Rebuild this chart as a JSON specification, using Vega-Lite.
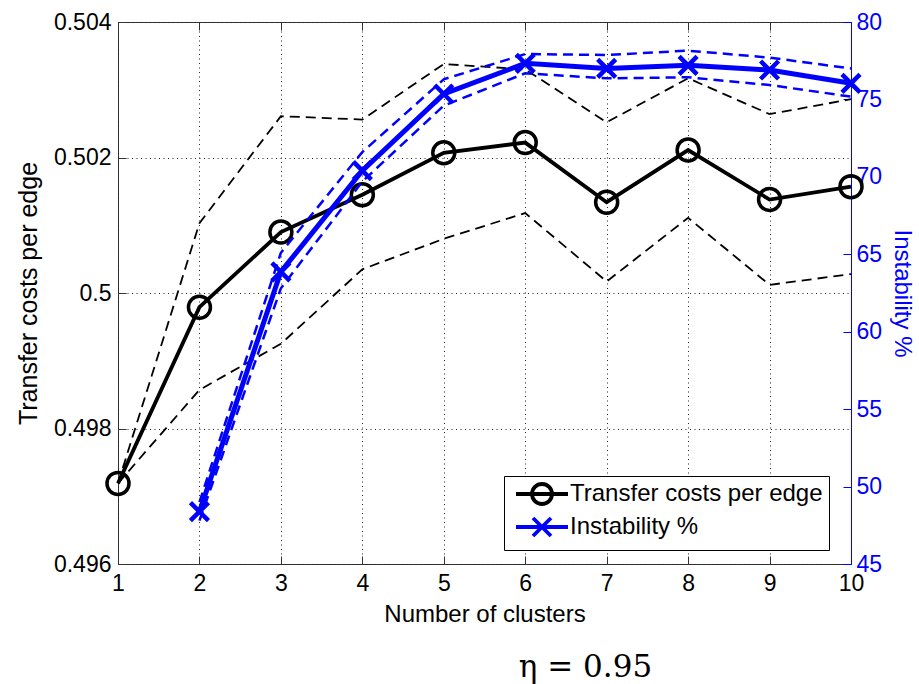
{
  "$schema": "https://vega.github.io/schema/vega-lite/v6.json",
  "width": 733,
  "height": 542,
  "autosize": {"type": "none"},
  "padding": {"left": 118, "top": 22, "right": 68, "bottom": 120},
  "background": "white",
  "config": {
    "font": "Liberation Sans",
    "view": {"stroke": "#333", "strokeWidth": 1},
    "axis": {
      "labelFont": "Liberation Sans",
      "titleFont": "Liberation Sans",
      "labelFontSize": 23,
      "titleFontSize": 24,
      "titleFontWeight": "normal",
      "labelColor": "black",
      "titleColor": "black",
      "tickColor": "#333",
      "domainColor": "#333",
      "tickSize": -8,
      "gridColor": "#222",
      "gridDash": [1, 3.5],
      "gridOpacity": 1,
      "labelOverlap": false,
      "labelFlush": false
    }
  },
  "title": {
    "text": "η = 0.95",
    "orient": "bottom",
    "anchor": "middle",
    "font": "DejaVu Serif",
    "fontSize": 31,
    "fontWeight": "normal",
    "color": "black",
    "dx": 101,
    "offset": 27
  },
  "datasets": {
    "cost": [
      {"k": 1, "band": "mean", "value": 0.49719},
      {"k": 2, "band": "mean", "value": 0.49979},
      {"k": 3, "band": "mean", "value": 0.5009},
      {"k": 4, "band": "mean", "value": 0.50145},
      {"k": 5, "band": "mean", "value": 0.50207},
      {"k": 6, "band": "mean", "value": 0.50222},
      {"k": 7, "band": "mean", "value": 0.50134},
      {"k": 8, "band": "mean", "value": 0.50211},
      {"k": 9, "band": "mean", "value": 0.50138},
      {"k": 10, "band": "mean", "value": 0.50157},
      {"k": 1, "band": "upper", "value": 0.49719},
      {"k": 2, "band": "upper", "value": 0.50103},
      {"k": 3, "band": "upper", "value": 0.50261},
      {"k": 4, "band": "upper", "value": 0.50256},
      {"k": 5, "band": "upper", "value": 0.50338},
      {"k": 6, "band": "upper", "value": 0.5033},
      {"k": 7, "band": "upper", "value": 0.50252},
      {"k": 8, "band": "upper", "value": 0.50317},
      {"k": 9, "band": "upper", "value": 0.50264},
      {"k": 10, "band": "upper", "value": 0.50286},
      {"k": 1, "band": "lower", "value": 0.49719},
      {"k": 2, "band": "lower", "value": 0.49857},
      {"k": 3, "band": "lower", "value": 0.49925},
      {"k": 4, "band": "lower", "value": 0.50035},
      {"k": 5, "band": "lower", "value": 0.5008},
      {"k": 6, "band": "lower", "value": 0.50118},
      {"k": 7, "band": "lower", "value": 0.50017},
      {"k": 8, "band": "lower", "value": 0.50111},
      {"k": 9, "band": "lower", "value": 0.50012},
      {"k": 10, "band": "lower", "value": 0.50028}
    ],
    "inst": [
      {"k": 2, "band": "mean", "value": 48.38},
      {"k": 3, "band": "mean", "value": 63.87},
      {"k": 4, "band": "mean", "value": 70.4},
      {"k": 5, "band": "mean", "value": 75.35},
      {"k": 6, "band": "mean", "value": 77.33},
      {"k": 7, "band": "mean", "value": 77.0},
      {"k": 8, "band": "mean", "value": 77.2},
      {"k": 9, "band": "mean", "value": 76.9},
      {"k": 10, "band": "mean", "value": 76.04},
      {"k": 2, "band": "upper", "value": 49.0},
      {"k": 3, "band": "upper", "value": 65.1},
      {"k": 4, "band": "upper", "value": 71.6},
      {"k": 5, "band": "upper", "value": 76.3},
      {"k": 6, "band": "upper", "value": 77.93},
      {"k": 7, "band": "upper", "value": 77.87},
      {"k": 8, "band": "upper", "value": 78.15},
      {"k": 9, "band": "upper", "value": 77.7},
      {"k": 10, "band": "upper", "value": 77.0},
      {"k": 2, "band": "lower", "value": 47.8},
      {"k": 3, "band": "lower", "value": 62.8},
      {"k": 4, "band": "lower", "value": 69.7},
      {"k": 5, "band": "lower", "value": 74.6},
      {"k": 6, "band": "lower", "value": 76.69},
      {"k": 7, "band": "lower", "value": 76.36},
      {"k": 8, "band": "lower", "value": 76.43},
      {"k": 9, "band": "lower", "value": 75.93},
      {"k": 10, "band": "lower", "value": 75.18}
    ]
  },
  "layer": [
    {
      "data": {"name": "cost"},
      "encoding": {
        "x": {
          "field": "k",
          "type": "quantitative",
          "scale": {"domain": [1, 10], "nice": false, "zero": false},
          "axis": {
            "orient": "bottom",
            "values": [1, 2, 3, 4, 5, 6, 7, 8, 9, 10],
            "format": "d",
            "title": "Number of clusters",
            "titlePadding": 7,
            "labelPadding": 16,
            "grid": true,
            "domain": false
          }
        },
        "y": {
          "field": "value",
          "type": "quantitative",
          "scale": {"domain": [0.496, 0.504], "nice": false, "zero": false},
          "axis": {
            "orient": "left",
            "values": [0.496, 0.498, 0.5, 0.502, 0.504],
            "format": ".3~f",
            "title": "Transfer costs per edge",
            "titleFontSize": 25,
            "titlePadding": 12,
            "labelPadding": 15,
            "grid": true,
            "domain": false
          }
        }
      },
      "layer": [
        {
          "transform": [{"filter": "datum.band !== 'mean'"}],
          "mark": {"type": "line", "color": "black", "strokeWidth": 1.8, "strokeDash": [10, 6]},
          "encoding": {"detail": {"field": "band", "type": "nominal"}}
        },
        {
          "transform": [{"filter": "datum.band === 'mean'"}],
          "mark": {"type": "line", "color": "black", "strokeWidth": 3.8}
        },
        {
          "transform": [{"filter": "datum.band === 'mean'"}],
          "mark": {"type": "point", "shape": "circle", "filled": false, "strokeWidth": 3.5, "size": 484, "opacity": 1, "color": "black"}
        },
        {
          "transform": [{"filter": "false"}],
          "mark": {"type": "point", "filled": false, "strokeWidth": 3.5, "size": 400, "opacity": 1},
          "encoding": {
            "color": {
              "datum": "Transfer costs per edge",
              "type": "nominal",
              "scale": {"domain": ["Transfer costs per edge", "Instability %"], "range": ["black", "#0000ff"]},
              "legend": {
                "title": null,
                "orient": "none",
                "legendX": 386,
                "legendY": 454,
                "strokeColor": "black",
                "fillColor": "white",
                "padding": 6,
                "labelFont": "Liberation Sans",
                "labelFontSize": 24,
                "labelColor": "black",
                "labelLimit": 600,
                "symbolSize": 400,
                "symbolOffset": 20,
                "labelOffset": 16,
                "rowPadding": -2,
                "symbolStrokeWidth": 3.8
              }
            },
            "shape": {
              "datum": "Transfer costs per edge",
              "type": "nominal",
              "scale": {"domain": ["Transfer costs per edge", "Instability %"], "range": ["M-2.6,0L2.6,0M1,0A1,1,0,1,1,-1,0A1,1,0,1,1,1,0", "M-2.6,0L2.6,0M-0.9,-0.9L0.9,0.9M-0.9,0.9L0.9,-0.9"]},
              "legend": null
            }
          }
        }
      ]
    },
    {
      "data": {"name": "inst"},
      "encoding": {
        "x": {
          "field": "k",
          "type": "quantitative",
          "scale": {"domain": [1, 10], "nice": false, "zero": false},
          "axis": {
            "orient": "top",
            "values": [1, 2, 3, 4, 5, 6, 7, 8, 9, 10],
            "labels": false,
            "title": null,
            "grid": false,
            "domain": false
          }
        },
        "y": {
          "field": "value",
          "type": "quantitative",
          "scale": {"domain": [45, 80], "nice": false, "zero": false},
          "axis": {
            "orient": "right",
            "values": [45, 50, 55, 60, 65, 70, 75, 80],
            "title": "Instability %",
            "titleColor": "#0000ff",
            "labelColor": "#0000ff",
            "tickColor": "#0000ff",
            "domainColor": "#0000ff",
            "titleFontSize": 24,
            "titlePadding": 8,
            "labelPadding": 13,
            "grid": false,
            "domain": true
          }
        }
      },
      "layer": [
        {
          "transform": [{"filter": "datum.band !== 'mean'"}],
          "mark": {"type": "line", "color": "#0000ff", "strokeWidth": 2.5, "strokeDash": [10, 6]},
          "encoding": {"detail": {"field": "band", "type": "nominal"}}
        },
        {
          "transform": [{"filter": "datum.band === 'mean'"}],
          "mark": {"type": "line", "color": "#0000ff", "strokeWidth": 5}
        },
        {
          "transform": [{"filter": "datum.band === 'mean'"}],
          "mark": {"type": "point", "shape": "M-1,-1L1,1M-1,1L1,-1", "filled": false, "strokeWidth": 4.5, "size": 324, "opacity": 1, "color": "#0000ff"}
        },
        {
          "transform": [{"filter": "false"}],
          "mark": {"type": "point", "filled": false, "strokeWidth": 3.5, "size": 400, "opacity": 1},
          "encoding": {
            "color": {"datum": "Instability %", "type": "nominal"},
            "shape": {"datum": "Instability %", "type": "nominal", "legend": null}
          }
        }
      ]
    }
  ],
  "resolve": {"scale": {"y": "independent"}, "axis": {"x": "independent", "y": "independent"}}
}
